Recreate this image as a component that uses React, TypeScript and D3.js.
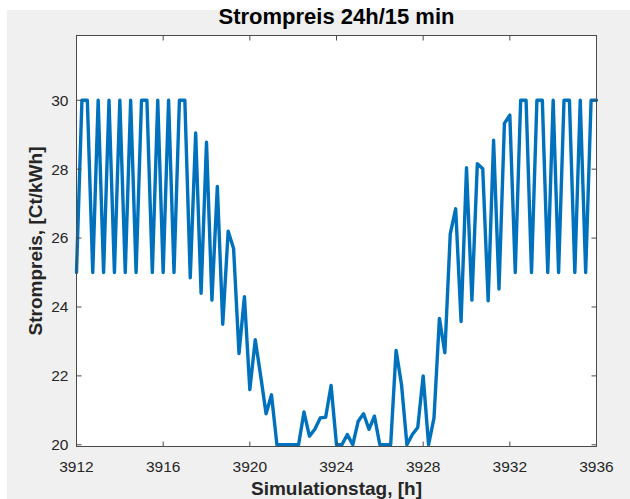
import React from "react";
import * as d3 from "d3";

// ---- data ----
const startHour = 3912;
const stepHours = 0.25; // 15 min
const prices: number[] = [
  25, 30, 30, 25, 30, 25, 30, 25, 30, 25,
  30, 25, 30, 30, 25, 30, 25, 30, 25, 30,
  30, 24.85, 29.05, 24.4, 28.78, 24.2, 27.5, 23.5, 26.2, 25.7,
  22.65, 24.3, 21.6, 23.05, 22.0, 20.9, 21.45, 20, 20, 20,
  20, 20, 20.95, 20.25, 20.45, 20.78, 20.8, 21.72, 20, 20,
  20.3, 20, 20.68, 20.9, 20.45, 20.83, 20, 20, 20, 22.74,
  21.75, 20, 20.3, 20.5, 22.0, 20, 20.78, 23.67, 22.67, 26.12,
  26.85, 23.58, 28.04, 24.2, 28.16, 28.01, 24.18, 28.84, 24.52, 29.33,
  29.57, 25, 30, 30, 25, 30, 30, 25, 30, 25,
  30, 30, 25, 30, 25, 30, 30,
];
const xTicks = [3912, 3916, 3920, 3924, 3928, 3932, 3936];
const yTicks = [20, 22, 24, 26, 28, 30];
const xDomain = [3912, 3936];
const yDomain = [19.95, 31.88];
const titleText = "Strompreis 24h/15 min";
const xLabelText = "Simulationstag, [h]";
const yLabelText = "Strompreis, [Ct/kWh]";

export default function App() {
  const W = 630;
  const H = 499;
  const L = 76.5, R = 596.5, T = 35.5, B = 446.5;
  const x = d3.scaleLinear().domain(xDomain).range([L, R]);
  const y = d3.scaleLinear().domain(yDomain).range([B, T]);
  const line = d3
    .line<number>()
    .x((_, i) => x(startHour + i * stepHours))
    .y((d) => y(d));
  const font = "'Liberation Sans', Arial, Helvetica, sans-serif";
  const axisColor = "#4a4a4a";
  const textColor = "#262626";
  const tickLen = 5;

  return (
    <svg
      width={W}
      height={H}
      style={{ position: "fixed", left: 0, top: 0, display: "block" }}
      fontFamily={font}
    >
      <rect x={0} y={0} width={W} height={H} fill="#ffffff" />
      <rect x={7} y={10} width={W - 7} height={H - 10} fill="#f0f0f0" />
      <rect x={L} y={T} width={R - L} height={B - T} fill="#ffffff" />

      {/* data line */}
      <path
        d={line(prices) || ""}
        fill="none"
        stroke="#0072BD"
        strokeWidth={3.4}
        strokeLinejoin="round"
        strokeLinecap="round"
      />

      {/* box */}
      <rect
        x={L}
        y={T}
        width={R - L}
        height={B - T}
        fill="none"
        stroke={axisColor}
        strokeWidth={1}
      />

      {/* x ticks */}
      {xTicks.map((t) => (
        <g key={"x" + t}>
          <line x1={x(t)} x2={x(t)} y1={B} y2={B - tickLen} stroke={axisColor} />
          <line x1={x(t)} x2={x(t)} y1={T} y2={T + tickLen} stroke={axisColor} />
          <text
            x={x(t)}
            y={472}
            textAnchor="middle"
            fontSize={15.5}
            fill={textColor}
          >
            {t}
          </text>
        </g>
      ))}

      {/* y ticks */}
      {yTicks.map((t) => (
        <g key={"y" + t}>
          <line x1={L} x2={L + tickLen} y1={y(t)} y2={y(t)} stroke={axisColor} />
          <line x1={R} x2={R - tickLen} y1={y(t)} y2={y(t)} stroke={axisColor} />
          <text
            x={L - 8}
            y={y(t)}
            dy="0.35em"
            textAnchor="end"
            fontSize={15.5}
            fill={textColor}
          >
            {t}
          </text>
        </g>
      ))}

      {/* title */}
      <text
        x={(L + R) / 2}
        y={24}
        textAnchor="middle"
        fontSize={22}
        fontWeight="bold"
        fill="#000"
      >
        {titleText}
      </text>

      {/* x label */}
      <text
        x={(L + R) / 2}
        y={495}
        textAnchor="middle"
        fontSize={19}
        fontWeight="bold"
        fill={textColor}
      >
        {xLabelText}
      </text>

      {/* y label */}
      <text
        transform={`translate(42, ${(T + B) / 2}) rotate(-90)`}
        textAnchor="middle"
        fontSize={19}
        fontWeight="bold"
        fill={textColor}
      >
        {yLabelText}
      </text>
    </svg>
  );
}
